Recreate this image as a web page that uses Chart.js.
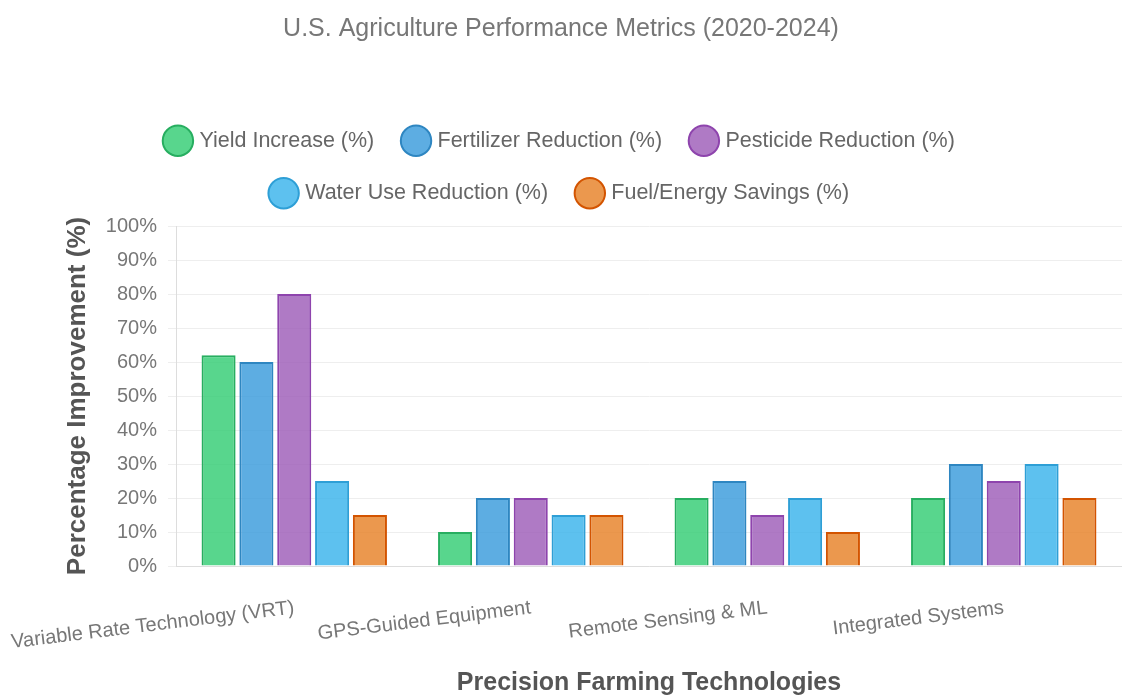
<!DOCTYPE html>
<html>
<head>
<meta charset="utf-8">
<script src="https://cdn.jsdelivr.net/npm/chart.js@4.4.0/dist/chart.umd.min.js"></script>
<style>
  html, body { margin: 0; padding: 0; background: #fff; }
  .wrap { width: 1122px; height: 698px; }
</style>
</head>
<body>
<div class="wrap"><canvas id="chart"></canvas></div>
<script>
const categories = [
  "Variable Rate Technology (VRT)",
  "GPS-Guided Equipment",
  "Remote Sensing & ML",
  "Integrated Systems"
];
const yieldIncrease = [62, 10, 20, 20];
const fertilizerReduction = [60, 20, 25, 30];
const pesticideReduction = [80, 20, 15, 25];
const waterUseReduction = [25, 15, 20, 30];
const fuelEnergySavings = [15, 15, 10, 20];

// build one dataset per metric
function series(label, data, bg, border) {
  return { label, data, backgroundColor: bg, borderColor: border, borderWidth: 2 };
}

// a little extra room under the legend
const legendGap = {
  id: "legendGap",
  beforeInit(chart) {
    const fit = chart.legend.fit;
    chart.legend.fit = function () {
      fit.bind(chart.legend)();
      this.height += 12;
    };
  }
};

const ctx = document.getElementById("chart").getContext("2d");
new Chart(ctx, {
  type: "bar",
  data: {
    labels: categories,
    datasets: [
      series("Yield Increase (%)", yieldIncrease, "rgba(46, 204, 113, 0.8)", "#27ae60"),
      series("Fertilizer Reduction (%)", fertilizerReduction, "rgba(52, 152, 219, 0.8)", "#2e86c1"),
      series("Pesticide Reduction (%)", pesticideReduction, "rgba(155, 89, 182, 0.8)", "#8e44ad"),
      series("Water Use Reduction (%)", waterUseReduction, "rgba(52, 177, 235, 0.8)", "#2e9fd6"),
      series("Fuel/Energy Savings (%)", fuelEnergySavings, "rgba(230, 126, 34, 0.8)", "#d35400")
    ]
  },
  plugins: [legendGap],
  options: {
    responsive: true,
    maintainAspectRatio: false,
    animation: false,
    layout: { padding: 0 },
    plugins: {
      title: {
        display: true,
        text: "U.S. Agriculture Performance Metrics (2020-2024)",
        color: "#777",
        font: { family: "Liberation Sans", size: 25, weight: "normal" },
        padding: { top: 14, bottom: 55 }
      },
      legend: {
        position: "top",
        labels: {
          usePointStyle: true,
          pointStyle: "circle",
          color: "#666",
          padding: 31,
          font: { family: "Liberation Sans", size: 21.5 }
        }
      }
    },
    scales: {
      x: {
        grid: { display: false },
        border: { color: "#ddd" },
        // long first label may hang past the left edge, like the original
        afterFit(scale) {
          scale.paddingLeft = 0;
          scale.paddingRight = 0;
          scale.height = 132;
        },
        ticks: {
          color: "#777",
          padding: 22,
          font: { family: "Liberation Sans", size: 20 },
          minRotation: 7,
          maxRotation: 7
        },
        title: {
          display: true,
          text: "Precision Farming Technologies",
          color: "#555",
          font: { family: "Liberation Sans", size: 25, weight: "bold" },
          padding: { top: 4, bottom: 0 }
        }
      },
      y: {
        min: 0,
        max: 100,
        grid: { color: "#eee" },
        border: { color: "#ddd" },
        afterFit(scale) { scale.width = 176; },
        ticks: {
          stepSize: 10,
          color: "#777",
          padding: 11,
          font: { family: "Liberation Sans", size: 20 },
          callback: v => v + "%"
        },
        title: {
          display: true,
          text: "Percentage Improvement (%)",
          color: "#555",
          font: { family: "Liberation Sans", size: 26, weight: "bold" },
          padding: { top: 62, bottom: 4 }
        }
      }
    }
  }
});
</script>
</body>
</html>
